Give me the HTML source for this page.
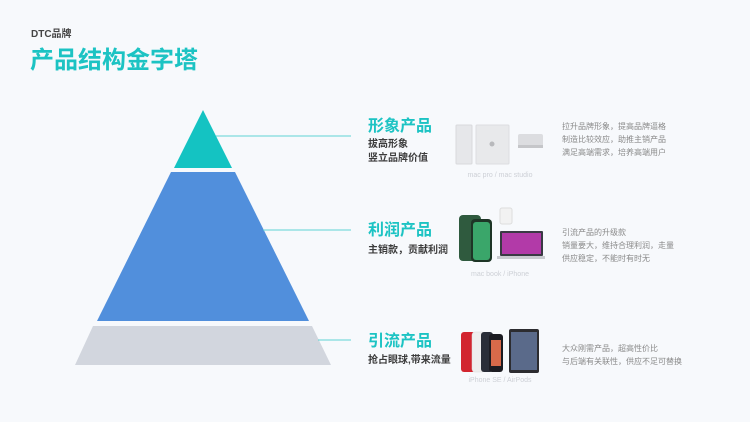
<!DOCTYPE html>
<html><head><meta charset="utf-8"><style>
*{margin:0;padding:0;box-sizing:border-box}
body{width:750px;height:422px;background:#f7f9fc;position:relative;overflow:hidden;font-family:"Liberation Sans","Noto Sans CJK SC",sans-serif}
.a{position:absolute;white-space:nowrap}
.h{color:#1cc3c3;font-weight:bold;font-size:16px;line-height:18px}
.s{color:#3c3c3c;font-weight:bold;font-size:10px;line-height:14px}
.g{color:#8a8a8a;font-size:8px;line-height:13px}
.c{color:#cdd0d6;font-size:7px;line-height:9px;text-align:center;width:100px}
</style></head><body>
<div class="a" style="left:31px;top:25px;font-size:10px;font-weight:bold;color:#444">DTC品牌</div>
<div class="a" style="left:30px;top:40px;font-size:24px;font-weight:bold;color:#1cc3c3">产品结构金字塔</div>
<svg class="a" style="left:0;top:0" width="750" height="422">
<polygon points="203,110 232,168 174,168" fill="#14c3c2"/>
<polygon points="171,172 235,172 309,321 97,321" fill="#518fdc"/>
<polygon points="93,326 312,326 331,365 75,365" fill="#d2d6de"/>
<line x1="216" y1="136" x2="351" y2="136" stroke="#5fd3d3" stroke-width="1"/>
<line x1="263" y1="230" x2="351" y2="230" stroke="#5fd3d3" stroke-width="1"/>
<line x1="318" y1="340" x2="351" y2="340" stroke="#5fd3d3" stroke-width="1"/>
<rect x="456" y="125" width="16" height="39" rx="1" fill="#e6e7ea" stroke="#d8d9dc"/>
<rect x="476" y="125" width="33" height="39" rx="1" fill="#e8e9eb" stroke="#dcdde0"/>
<circle cx="492" cy="144" r="2.5" fill="#b8b9bc"/>
<rect x="518" y="134" width="25" height="14" rx="2" fill="#dcdde0"/>
<rect x="518" y="145" width="25" height="3" fill="#c5c6c9"/>
<rect x="459" y="215" width="22" height="46" rx="4" fill="#2f5a3e"/>
<rect x="471" y="219" width="21" height="43" rx="4" fill="#1e3526"/>
<rect x="473" y="222" width="17" height="38" rx="3" fill="#3aa66a"/>
<rect x="500" y="208" width="12" height="16" rx="2" fill="#f2f2f2" stroke="#ddd"/>
<rect x="500" y="231" width="43" height="25" rx="1" fill="#3a3a44"/>
<rect x="502" y="233" width="39" height="21" fill="#b23aa8"/>
<rect x="497" y="256" width="48" height="3" fill="#c9cbd0"/>
<rect x="461" y="332" width="14" height="40" rx="3" fill="#d2252f"/>
<rect x="472" y="332" width="13" height="40" rx="3" fill="#eeeeee" stroke="#ddd" stroke-width="0.5"/>
<rect x="481" y="332" width="12" height="40" rx="3" fill="#2a2e38"/>
<rect x="489" y="334" width="14" height="38" rx="3" fill="#1c1c22"/>
<rect x="491" y="340" width="10" height="26" fill="#d86a4a"/>
<rect x="509" y="329" width="30" height="44" rx="2" fill="#2c2c30"/>
<rect x="511" y="332" width="26" height="38" fill="#5a6a8a"/>
</svg>
<div class="a h" style="left:368px;top:118px">形象产品</div>
<div class="a s" style="left:368px;top:138px">拔高形象</div>
<div class="a s" style="left:368px;top:152px">竖立品牌价值</div>
<div class="a h" style="left:368px;top:222px">利润产品</div>
<div class="a s" style="left:368px;top:244px">主销款，贡献利润</div>
<div class="a h" style="left:368px;top:333px">引流产品</div>
<div class="a s" style="left:368px;top:354px">抢占眼球,带来流量</div>
<div class="a c" style="left:450px;top:171px">mac pro / mac studio</div>
<div class="a c" style="left:450px;top:270px">mac book / iPhone</div>
<div class="a c" style="left:450px;top:376px">iPhone SE / AirPods</div>
<div class="a g" style="left:562px;top:120px">拉升品牌形象，提高品牌逼格<br>制造比较效应，助推主销产品<br>满足高端需求，培养高端用户</div>
<div class="a g" style="left:562px;top:226px">引流产品的升级款<br>销量要大，维持合理利润，走量<br>供应稳定，不能时有时无</div>
<div class="a g" style="left:562px;top:342px">大众刚需产品，超高性价比<br>与后端有关联性，供应不足可替换</div>
</body></html>
